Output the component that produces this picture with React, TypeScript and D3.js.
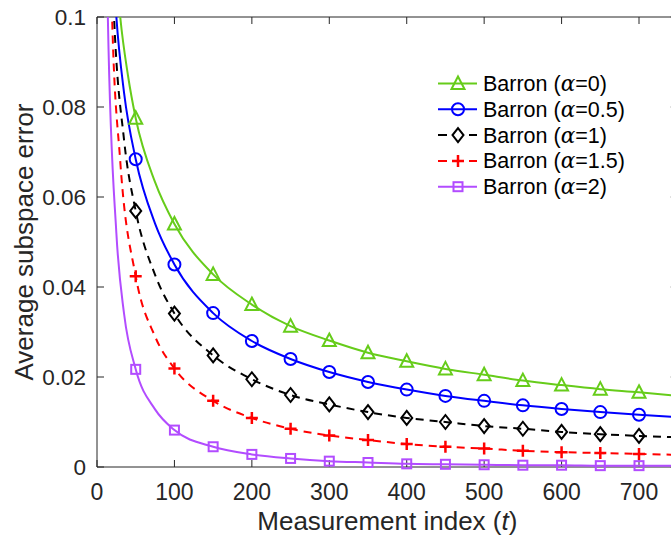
import React from "react";
import * as d3 from "d3";

// ---- data ----
const markerSteps = [50, 100, 150, 200, 250, 300, 350, 400, 450, 500, 550, 600, 650, 700];
const xTicks = [0, 100, 200, 300, 400, 500, 600, 700];
const yTicks = [0, 0.02, 0.04, 0.06, 0.08, 0.1];
const yTickLabels = ["0", "0.02", "0.04", "0.06", "0.08", "0.1"];
const alphaLabels = ["0", "0.5", "1", "1.5", "2"];

const tA0 = [20, 30, 40, 50, 75, 100, 150, 200, 250, 300, 350, 400, 450, 500, 550, 600, 650, 700, 750];
const errA0 = [0.122, 0.1, 0.087, 0.0775, 0.0633, 0.054, 0.0428, 0.0361, 0.0313, 0.0281, 0.0254, 0.0235, 0.0218, 0.0205, 0.0192, 0.0182, 0.0173, 0.0166, 0.0158];

const tA05 = [15, 25, 35, 50, 75, 100, 150, 200, 250, 300, 350, 400, 450, 500, 550, 600, 650, 700, 750];
const errA05 = [0.132, 0.1, 0.0831, 0.0684, 0.0541, 0.045, 0.0342, 0.028, 0.024, 0.0211, 0.0189, 0.0172, 0.0158, 0.0147, 0.0137, 0.0129, 0.0122, 0.0116, 0.0111];

const tA1 = [12, 22, 35, 50, 75, 100, 150, 200, 250, 300, 350, 400, 450, 500, 550, 600, 650, 700, 750];
const errA1 = [0.152, 0.1, 0.0726, 0.0569, 0.0427, 0.0341, 0.0248, 0.0195, 0.016, 0.0139, 0.0122, 0.0109, 0.01, 0.0091, 0.0085, 0.0078, 0.0073, 0.0069, 0.0066];

const tA15 = [10, 19.5, 30, 50, 75, 100, 150, 200, 250, 300, 350, 400, 450, 500, 550, 600, 650, 700, 750];
const errA15 = [0.183, 0.1, 0.068, 0.0424, 0.029, 0.0219, 0.0147, 0.0109, 0.0085, 0.007, 0.006, 0.0051, 0.0045, 0.0041, 0.0036, 0.0033, 0.0031, 0.0029, 0.0027];

const tA2 = [8, 14, 25, 35, 50, 75, 100, 150, 200, 250, 300, 350, 400, 450, 500, 550, 600, 650, 700, 750];
const errA2 = [0.196, 0.1, 0.052, 0.034, 0.0217, 0.0128, 0.0082, 0.0045, 0.0028, 0.0019, 0.0013, 0.001, 0.0007, 0.0006, 0.0005, 0.0004, 0.0004, 0.0003, 0.0003, 0.0003];

// ---- styling ----
const W = 671;
const H = 535;
const left = 97;
const top = 17;
const bottom = 467;
const xMax = 750;
const pxPer100 = 77.43;
const right = left + (xMax / 100) * pxPer100;
const axisColor = "#262626";
const FONT = "'Liberation Sans', Arial, Helvetica, sans-serif";

type Shape = "triangle" | "circle" | "diamond" | "plus" | "square";
const series = [
  { t: tA0, e: errA0, color: "#66cc1a", dashed: false, shape: "triangle" as Shape },
  { t: tA05, e: errA05, color: "#0000ff", dashed: false, shape: "circle" as Shape },
  { t: tA1, e: errA1, color: "#000000", dashed: true, shape: "diamond" as Shape },
  { t: tA15, e: errA15, color: "#ff0000", dashed: true, shape: "plus" as Shape },
  { t: tA2, e: errA2, color: "#b24cff", dashed: false, shape: "square" as Shape },
];

function Marker({ shape, x, y, color }: { shape: Shape; x: number; y: number; color: string }) {
  const common = { fill: "none", stroke: color, strokeWidth: 2 };
  switch (shape) {
    case "triangle":
      return <path d={`M${x},${y - 7}L${x + 6.5},${y + 5.5}L${x - 6.5},${y + 5.5}Z`} {...common} />;
    case "circle":
      return <circle cx={x} cy={y} r={6} {...common} />;
    case "diamond":
      return <path d={`M${x},${y - 7}L${x + 5.5},${y}L${x},${y + 7}L${x - 5.5},${y}Z`} {...common} />;
    case "plus":
      return <path d={`M${x - 6},${y}H${x + 6}M${x},${y - 6}V${y + 6}`} {...common} strokeWidth={2.5} />;
    case "square":
      return <rect x={x - 4.5} y={y - 4.5} width={9} height={9} {...common} />;
  }
}

export default function App() {
  const x = d3.scaleLinear().domain([0, xMax]).range([left, right]);
  const y = d3.scaleLinear().domain([0, 0.1]).range([bottom, top]);
  const line = d3
    .line<[number, number]>()
    .x((d) => x(d[0]))
    .y((d) => y(d[1]))
    .curve(d3.curveMonotoneX);

  const legendX0 = 438;
  const legendX1 = 477;
  const legendMX = 458;
  const legendTextX = 483;
  const legendY0 = 83.5;
  const legendDy = 25.8;

  return (
    <svg
      width={W}
      height={H}
      style={{ position: "absolute", left: 0, top: 0, background: "#fff" }}
      fontFamily={FONT}
    >
      <defs>
        <clipPath id="plotClip">
          <rect x={left} y={top} width={right - left} height={bottom - top} />
        </clipPath>
      </defs>
      <rect x={0} y={0} width={W} height={H} fill="#fff" />

      {/* axes box */}
      <g stroke={axisColor} strokeWidth={1} fill="none">
        <line x1={left} y1={bottom} x2={right} y2={bottom} />
        <line x1={left} y1={top} x2={right} y2={top} />
        <line x1={left} y1={top} x2={left} y2={bottom} />
        <line x1={right} y1={top} x2={right} y2={bottom} />
        {xTicks.map((t) => (
          <g key={"xt" + t}>
            <line x1={x(t)} x2={x(t)} y1={bottom} y2={bottom - 7} />
            <line x1={x(t)} x2={x(t)} y1={top} y2={top + 7} />
          </g>
        ))}
        {yTicks.map((v) => (
          <g key={"yt" + v}>
            <line x1={left} x2={left + 7} y1={y(v)} y2={y(v)} />
            <line x1={right} x2={right - 7} y1={y(v)} y2={y(v)} />
          </g>
        ))}
      </g>

      {/* tick labels */}
      {xTicks.map((t) => (
        <text key={"xl" + t} x={x(t)} y={500} textAnchor="middle" fontSize={23} fill={axisColor}>
          {t}
        </text>
      ))}
      {yTicks.map((v, i) => (
        <text key={"yl" + v} x={86} y={y(v) + 8} textAnchor="end" fontSize={22.5} fill={axisColor}>
          {yTickLabels[i]}
        </text>
      ))}

      {/* axis titles */}
      <text x={(left + right) / 2} y={530} textAnchor="middle" fontSize={26} fill={axisColor}>
        Measurement index (<tspan fontStyle="italic">t</tspan>)
      </text>
      <text
        transform={`translate(33,${(top + bottom) / 2}) rotate(-90)`}
        textAnchor="middle"
        fontSize={26}
        fill={axisColor}
      >
        Average subspace error
      </text>

      {/* data */}
      <g clipPath="url(#plotClip)">
        {series.map((s, i) => {
          const pts = s.t.map((t, j) => [t, s.e[j]] as [number, number]);
          return (
            <path
              key={"l" + i}
              d={line(pts) || ""}
              fill="none"
              stroke={s.color}
              strokeWidth={2}
              strokeDasharray={s.dashed ? "8,6" : undefined}
            />
          );
        })}
      </g>
      {series.map((s, i) =>
        s.t.map((t, j) =>
          markerSteps.includes(t) ? (
            <Marker key={`m${i}-${j}`} shape={s.shape} x={x(t)} y={y(s.e[j])} color={s.color} />
          ) : null
        )
      )}

      {/* legend */}
      {series.map((s, i) => {
        const ly = legendY0 + i * legendDy;
        return (
          <g key={"lg" + i}>
            <line
              x1={legendX0}
              x2={legendX1}
              y1={ly}
              y2={ly}
              stroke={s.color}
              strokeWidth={2}
              strokeDasharray={s.dashed ? "9,22" : undefined}
            />
            <Marker shape={s.shape} x={legendMX} y={ly} color={s.color} />
            <text x={legendTextX} y={ly + 7.5} fontSize={21.5} fill="#000">
              Barron (<tspan fontStyle="italic" fontFamily="'DejaVu Serif', serif">α</tspan>={alphaLabels[i]})
            </text>
          </g>
        );
      })}
    </svg>
  );
}
